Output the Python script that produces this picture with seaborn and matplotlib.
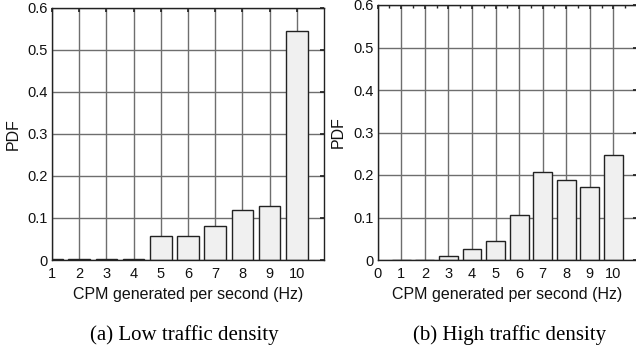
import matplotlib
matplotlib.use("Agg")
import matplotlib.pyplot as plt
import seaborn as sns
import pandas as pd
import numpy as np
from matplotlib.ticker import MultipleLocator

sns.set_theme(style="white")
plt.rcParams['font.family'] = ['Liberation Sans', 'DejaVu Sans']

rates = [1, 2, 3, 4, 5, 6, 7, 8, 9, 10]
pdf_low = [0.003, 0.002, 0.003, 0.002, 0.056, 0.057, 0.081, 0.118, 0.129, 0.545]
pdf_high = [0.001, 0.001, 0.009, 0.025, 0.045, 0.107, 0.207, 0.188, 0.171, 0.246]
xlabel = "CPM generated per second (Hz)"
ylabel = "PDF"
captions = ["(a) Low traffic density", "(b) High traffic density"]

fig = plt.figure(figsize=(6.36, 3.51), dpi=100)
ax1 = fig.add_axes([52/636, 1-260/351, (324-52)/636, (260-7.5)/351])
ax2 = fig.add_axes([377.7/636, 1-260/351, (637-377.7)/636, (260-5)/351])

def draw(ax, vals, xlim, xticks, minor):
    df = pd.DataFrame({"x": rates, "y": vals})
    ax.set_axisbelow(True)
    ax.grid(True, color="#6e6e6e", linewidth=1.0)
    ax.bar(df["x"], df["y"], width=0.8, color="#f0f0f0", edgecolor="#222222", linewidth=1.0, zorder=2)
    ax.set_xlim(*xlim)
    ax.set_ylim(0, 0.6)
    ax.set_xticks(xticks)
    ax.set_yticks([0, 0.1, 0.2, 0.3, 0.4, 0.5, 0.6])
    ax.set_yticklabels(["0", "0.1", "0.2", "0.3", "0.4", "0.5", "0.6"])
    if minor:
        ax.xaxis.set_minor_locator(MultipleLocator(0.5))
    ax.tick_params(axis="both", which="both", direction="in", top=True, right=True,
                   labelsize=10.5, color="#222222", labelcolor="#111111")
    ax.tick_params(axis="x", pad=5)
    ax.tick_params(axis="y", pad=3)
    ax.tick_params(which="major", length=3)
    ax.tick_params(which="minor", length=2)
    for s in ax.spines.values():
        s.set_color("#222222")
        s.set_linewidth(1.0)
    ax.set_xlabel(xlabel, fontsize=11.5, labelpad=4, color="#111111")
    ax.set_ylabel(ylabel, fontsize=11.5, labelpad=5, color="#111111")

draw(ax1, pdf_low, (1, 11), rates, False)
sns.despine(ax=ax1, top=False, right=False)
draw(ax2, pdf_high, (0, 11), [0] + rates, True)

fig.text(184/636, 1-335/351, captions[0], family="Liberation Serif", fontsize=15, ha="center", va="center", color="black")
fig.text(510/636, 1-335/351, captions[1], family="Liberation Serif", fontsize=15, ha="center", va="center", color="black")

fig.savefig("out.png", dpi=100)
